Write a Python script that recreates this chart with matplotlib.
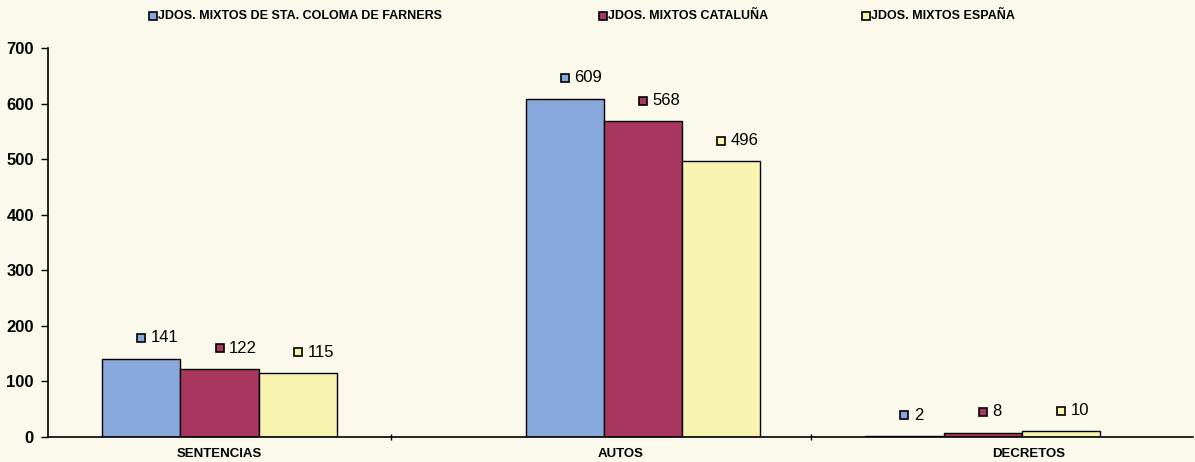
import matplotlib.pyplot as plt
from matplotlib.lines import Line2D
from matplotlib import transforms
import numpy as np

plt.rcParams['font.family'] = ['Liberation Sans Narrow', 'Liberation Sans', 'DejaVu Sans']

categorias = ["SENTENCIAS", "AUTOS", "DECRETOS"]
series = ["JDOS. MIXTOS DE STA. COLOMA DE FARNERS", "JDOS. MIXTOS CATALUÑA", "JDOS. MIXTOS ESPAÑA"]
sta_coloma = [141, 609, 2]
cataluna = [122, 568, 8]
espana = [115, 496, 10]
colores = ["#88A7DA", "#A8365F", "#F9F3B0"]
fondo = "#FBF8EC"

fig = plt.figure(figsize=(11.95, 4.62), dpi=100, facecolor=fondo)
ax = fig.add_axes([0.040, 0.054, 0.958, 0.842], facecolor=fondo)

# posiciones de los grupos (el gráfico original no es uniforme)
x = np.array([-0.05, 1.06, 1.95])
x_lab = [-0.05, 1.0, 2.07]
w = 0.205
datos = [sta_coloma, cataluna, espana]
for i, (vals, col) in enumerate(zip(datos, colores)):
    pos = x + (i - 1) * w
    ax.bar(pos, vals, width=w, color=col, edgecolor="black", linewidth=1.0, zorder=2)
    for xp, v in zip(pos, vals):
        tr = transforms.offset_copy(ax.transData, fig=fig, x=0, y=15, units='points')
        ax.plot([xp], [v], marker='s', markersize=6, markerfacecolor=col,
                markeredgecolor="black", markeredgewidth=1.2, transform=tr, clip_on=False)
        tr2 = transforms.offset_copy(ax.transData, fig=fig, x=7, y=15, units='points')
        ax.text(xp, v, str(v), transform=tr2, fontsize=12, va='center', ha='left')

ax.set_xlim(-0.5, 2.5)
ax.set_ylim(0, 700)
ax.set_yticks(range(0, 701, 100))
ax.tick_params(axis='y', labelsize=12, length=5, width=1, direction='out', pad=5)
for lab in ax.get_yticklabels():
    lab.set_fontweight('bold')
ax.set_xticks([0.4, 1.5])
ax.set_xticklabels([])
ax.tick_params(axis='x', length=5, width=1, direction='inout')
for xc, cat in zip(x_lab, categorias):
    ax.text(xc, -0.027, cat, transform=ax.get_xaxis_transform(), ha='center', va='top',
            fontsize=9.5, fontweight='bold')

ax.spines['top'].set_visible(False)
ax.spines['right'].set_visible(False)
ax.spines['left'].set_linewidth(1.2)
ax.spines['bottom'].set_linewidth(1.2)

# leyenda arriba
leg_x = [0.128, 0.505, 0.725]
for lx, nombre, col in zip(leg_x, series, colores):
    fig.add_artist(Line2D([lx], [0.965], marker='s', markersize=5.5, markerfacecolor=col,
                          markeredgecolor="black", markeredgewidth=1.2, transform=fig.transFigure))
    fig.text(lx + 0.004, 0.965, nombre, fontsize=9, fontweight='bold', va='center', ha='left')

fig.savefig("out.png", dpi=100, facecolor=fondo)
